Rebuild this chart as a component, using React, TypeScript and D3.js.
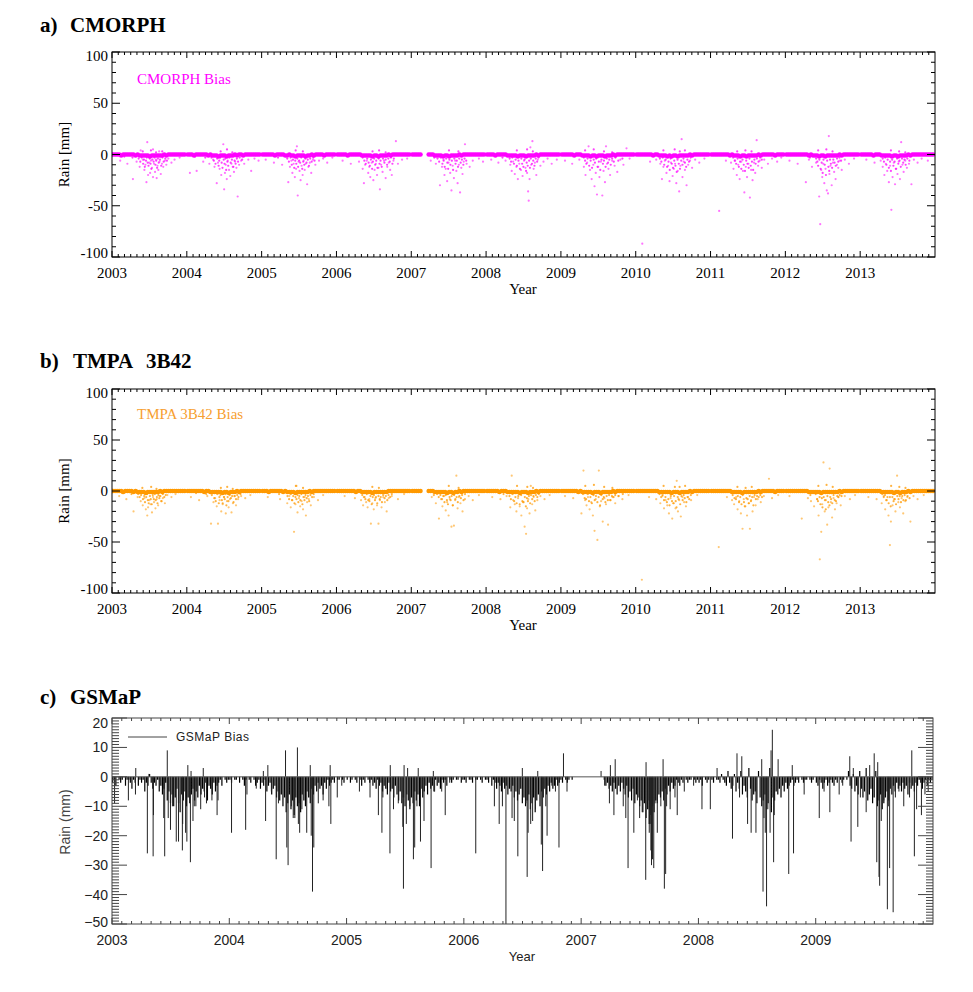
import React from 'react';
import * as d3 from 'd3';

// ---------- DATA ----------
const SCATTER_YEARS = [2003, 2004, 2005, 2006, 2007, 2008, 2009, 2010, 2011, 2012, 2013];
const AB_X_TICKS = [2003, 2004, 2005, 2006, 2007, 2008, 2009, 2010, 2011, 2012, 2013];
const AB_Y_TICKS = [100, 50, 0, -50, -100];

// CMORPH bias: 10-day (dekad) core values per year, "x" = missing
const CMORPH_BAND = [
  '0 0 0 0 -1 0 0 0 0 0 0 -1 0 -1 -1 -1 -1 -1 -2 -1 -1 -1 -1 -1 -1 0 -1 0 0 0 0 0 0 0 0 0',
  '0 0 0 -1 0 0 0 0 0 0 -1 0 -1 -1 -1 -2 -1 -1 -1 -2 -1 -1 -1 0 -1 0 0 -1 0 0 0 0 0 0 0 0',
  '0 0 0 0 0 0 -1 0 0 0 0 -1 -1 0 -1 -1 -2 -1 -1 -1 -1 -2 -1 -1 0 -1 0 0 0 0 -1 0 0 0 0 0',
  '0 0 0 0 0 -1 0 0 0 0 0 0 -1 -1 -1 -1 -1 -2 -1 -1 -2 -1 -1 -1 -1 0 -1 0 0 0 0 0 0 0 0 0',
  '0 0 0 0 0 x x x 0 0 0 -1 -1 -1 -1 -2 -1 -1 -2 -1 -1 -1 -1 0 -1 0 0 0 0 0 0 0 0 0 0 0',
  '0 0 0 0 -1 0 0 0 0 0 -1 -1 -1 -1 -1 -2 -1 -1 -1 -2 -1 -1 -1 -1 0 -1 0 0 0 0 0 0 0 0 0 0',
  '0 0 0 0 0 0 -1 0 0 0 -1 -1 -1 -1 -2 -1 -1 -2 -1 -1 -1 -2 -1 -1 -1 0 -1 0 0 0 0 0 0 0 0 0',
  '0 0 0 0 0 0 0 0 -1 0 0 -1 -1 -1 -1 -2 -1 -2 -1 -1 -2 -1 -1 -1 -1 -1 0 -1 0 0 0 0 0 0 0 0',
  '0 0 0 0 0 0 0 0 0 -1 0 -1 -1 -1 -2 -1 -1 -2 -1 -1 -1 -1 -1 0 -1 0 0 0 0 0 0 -1 0 0 0 0',
  '0 0 0 0 0 0 0 0 0 0 0 -1 0 -1 -1 -1 -2 -1 -1 -2 -1 -1 -1 -1 -1 -1 0 -1 0 0 0 0 0 0 0 0',
  '0 0 0 0 0 0 -1 0 0 0 -1 -1 -1 -1 -1 -2 -1 -1 -2 -1 -1 -1 -1 0 -1 0 0 0 0 0 0 0 0 0 0 0',
];

// CMORPH bias: scattered daily values "dayOfYear:mm" (far outliers)
const CMORPH_SCATTER = [
  '40:-6 75:-9 102:-24 120:-7 135:-12 140:4 150:-5 158:-15 163:-10 168:-27 172:12 176:-20 182:-8 186:-18 190:-6 195:-13 200:-22 200:5 205:-9 210:-17 214:-5 218:-23 222:-11 226:-15 230:3 232:-7 238:-19 244:-9 250:-12 258:-6 265:-10 275:-4 290:-8 305:-5 330:-3',
  '15:-18 48:-16 80:-7 110:-9 128:-5 135:-12 146:-28 152:-8 160:-14 168:-20 178:10 182:-34 186:-18 190:-10 195:-24 200:-6 206:-15 212:-21 218:-9 224:-12 230:-17 236:-7 242:-13 248:-41 255:-10 265:-6 280:-9 300:-5 314:-16 330:-4 350:-6',
  '20:-5 60:-8 100:-10 130:-27 138:-12 145:-6 150:-18 156:-9 162:-22 168:-14 172:8 176:-40 180:-7 185:-16 190:-25 195:-11 200:-20 205:-6 210:-15 215:-9 222:-29 228:-12 235:-8 242:-18 250:-5 262:-10 280:-6 300:-4 320:-8 345:-3',
  '30:-6 70:-9 110:-7 128:-14 134:-28 140:-10 148:-6 155:-18 160:-12 165:-22 172:-8 180:-25 186:-15 192:-9 198:-20 205:-13 212:-34 218:-10 225:-17 232:-6 240:-23 248:-12 255:-8 262:-15 270:-20 278:-6 290:13 300:-9 320:-5 345:-4',
  '95:-6 120:-9 140:-30 150:-12 157:-5 162:-20 168:-14 175:-26 182:-8 190:-18 196:-35 202:-11 208:-23 214:-6 220:-16 226:-28 232:-10 238:-37 244:-13 250:-19 256:-7 262:10 270:-9 285:-12 300:-6 330:-4 350:-7',
  '25:-5 60:-8 95:-6 118:-10 125:-16 132:-7 140:-19 148:-12 155:-24 162:-9 170:-15 178:-21 185:-6 192:-13 200:-18 205:-36 208:-45 212:-24 216:7 220:-10 226:13 232:-14 238:-8 245:-20 252:-5 265:-11 280:-7 300:-4 320:-9 345:-5',
  '20:-6 55:-9 90:-5 112:-12 120:-20 128:-8 135:8 142:-15 150:-24 158:-10 164:-31 170:-18 176:-39 182:-12 188:-22 195:-7 202:-40 208:-16 215:-27 220:8 225:-9 232:-14 240:-20 250:-6 262:-11 275:-17 290:-5 305:-10 320:6 335:-4',
  '32:-87 70:-7 100:-5 120:-9 128:-24 135:-12 142:-6 150:-18 158:-11 165:-26 172:-8 180:-21 186:-14 192:-9 198:-28 205:-16 212:-36 218:-11 224:15 228:-22 234:-7 240:-15 248:-30 256:-10 265:-6 275:-13 290:-5 310:-8 335:-4',
  '42:-55 75:-6 100:-8 112:-14 120:-6 128:-20 135:-10 142:-24 150:-7 158:-16 165:-37 172:-12 178:-22 185:-9 192:-42 198:-15 205:-25 212:-8 218:-18 225:14 232:-11 240:-6 250:-13 262:-5 280:-9 300:-4 325:-7 345:-3',
  '20:-6 60:-9 100:-27 115:-5 130:-12 150:-8 165:-41 170:-68 175:-15 180:-22 185:-9 190:-28 196:-14 202:-35 208:-38 212:18 215:-19 220:-11 226:-30 232:-8 238:-17 245:-24 252:-10 258:-13 265:-6 275:-15 290:-5 310:-9 335:-4',
  '30:-5 70:-8 100:-6 110:-12 118:-20 125:-9 132:-16 140:-27 146:-11 152:-54 158:-22 164:-8 170:-29 176:-14 182:-19 188:-7 194:-24 200:12 206:-10 212:-17 220:-6 228:-13 238:-9 250:-29 262:-5 280:-8 300:-4 330:-6',
];

// CMORPH bias: dense wet-season values close to the zero band
const CMORPH_NEAR = [
  '60:-2 100:-3 130:-4 138:-7 145:-3 150:3 152:-9 156:-5 160:-12 166:-6 170:-3 174:-8 178:-11 184:-4 188:-9 190:4 192:-14 197:-5 203:-7 207:-3 212:-10 215:2 216:-6 220:-13 224:-4 228:-8 234:-5 240:-11 245:3 246:-3 252:-7 260:-4 268:-6',
  '40:-2 90:-3 120:-3 132:-6 140:-9 148:-4 155:-11 158:-6 163:-3 165:3 170:-8 174:-13 180:-5 184:-9 188:-4 192:-15 196:5 198:-7 202:-11 208:-3 214:-8 220:-5 222:2 227:-12 233:-6 238:-9 244:-4 250:-7 258:-3 270:-5',
  '80:-3 125:-4 133:-7 141:-3 147:-10 153:-5 159:-13 164:-6 166:4 169:-9 174:-4 178:-12 183:-6 188:-8 193:-3 198:-14 201:3 203:-7 208:-10 213:-4 219:-8 225:-5 231:-11 237:-4 244:-7 252:-3 258:-6',
  '128:-3 136:-6 143:-9 150:-4 157:-8 163:-11 168:-5 174:-14 176:3 178:-7 184:-4 189:-10 194:-6 200:-13 206:-4 208:4 210:-9 215:-6 221:-12 227:-4 234:-8 240:-5 240:2 247:-10 253:-4 260:-7 266:-3 273:-9 280:-4',
  '112:-3 128:-4 136:-7 144:-3 152:-9 158:-6 163:-12 170:-4 176:-8 180:-14 184:4 186:-5 191:-10 198:-6 204:-15 210:-4 216:-9 222:-6 228:-12 230:3 234:-4 241:-8 247:-5 254:-10 260:-4 268:-6',
  '80:-3 115:-4 122:-7 128:-3 136:-9 144:-5 150:-11 150:4 158:-6 165:-14 172:-4 176:-9 182:-12 188:-5 195:-16 198:-8 200:5 203:-11 210:-6 214:-13 218:-4 224:-9 228:3 230:-6 236:-11 242:-4 249:-7 256:-3',
  '112:-3 118:-6 118:4 124:-9 130:-4 138:-11 145:-6 152:-13 160:-5 160:5 166:-8 172:-4 179:-12 185:-7 192:-15 198:-5 205:-9 210:-6 210:3 218:-12 224:-4 230:-8 236:-5 243:-10 250:-4 250:2 258:-7 266:-3 280:-6 300:-4',
  '118:-4 125:-7 132:-3 135:4 139:-10 146:-5 153:-12 160:-7 166:-15 170:-4 176:-9 182:-13 188:-6 190:5 194:-11 200:-17 204:-5 210:-9 215:3 216:-14 222:-6 228:-10 233:-4 240:-8 240:4 246:-12 252:-5 260:-7 268:-3',
  '110:-3 118:-6 125:-9 130:3 132:-4 138:-12 144:-7 150:-14 156:-5 162:-10 168:-16 170:4 174:-6 180:-9 186:-13 190:-4 196:-11 200:3 202:-7 208:-15 214:-5 220:-9 226:-4 234:-7 242:-3 250:-5',
  '120:-3 150:-4 156:-7 160:-11 160:4 166:-5 172:-14 177:-8 182:-18 186:-5 192:-10 198:-20 200:5 204:-6 210:-12 214:-16 218:-5 222:-9 228:-13 230:3 234:-5 240:-8 246:-11 252:-4 258:-7 264:-3 272:-6',
  '110:-4 116:-7 122:-3 128:-10 134:-5 140:-13 146:-7 150:-16 150:4 156:-5 162:-11 168:-7 174:-14 180:-4 186:-9 190:3 192:-6 198:-12 204:-4 210:-8 216:-5 220:2 222:-10 230:-4 240:-6',
];

// TMPA 3B42 bias
const TMPA_BAND = [
  '0 0 0 0 0 -1 0 0 0 0 -1 0 -1 -1 -1 -1 -2 -1 -1 -1 -1 -1 -1 0 -1 0 0 0 0 0 0 0 0 0 0 0',
  '0 0 0 0 0 0 0 0 -1 0 0 -1 -1 -1 -1 -1 -1 -2 -1 -1 -2 -1 -1 -1 0 -1 0 0 0 0 0 0 0 0 0 0',
  '0 0 0 -1 0 0 0 0 0 0 -1 0 -1 -1 -1 -1 -2 -1 -1 -1 -1 -1 -1 0 -1 0 0 0 0 0 0 0 0 0 0 0',
  '0 0 0 0 0 0 0 0 0 -1 0 0 -1 -1 -1 -1 -1 -2 -1 -1 -1 -1 -1 -1 -1 0 0 0 0 0 0 0 0 0 0 0',
  '0 0 0 0 0 x x x 0 0 0 -1 -1 -1 -1 -1 -1 -2 -1 -1 -2 -1 -1 0 -1 0 0 0 0 0 0 0 0 0 0 0',
  '0 0 0 0 0 0 -1 0 0 0 -1 -1 -1 -1 -1 -1 -2 -1 -1 -1 -2 -1 -1 -1 0 -1 0 0 0 0 0 0 0 0 0 0',
  '0 0 0 0 0 0 0 0 -1 0 -1 -1 -1 -1 -1 -2 -1 -1 -1 -2 -1 -1 -1 -1 -1 0 -1 0 0 0 0 0 0 0 0 0',
  '0 0 0 0 0 0 0 0 0 0 0 -1 -1 -1 -1 -1 -1 -2 -1 -1 -1 -2 -1 -1 -1 -1 0 -1 0 0 0 0 0 0 0 0',
  '0 0 0 0 0 0 0 0 0 0 -1 -1 -1 -1 -1 -2 -1 -1 -1 -1 -1 -1 -1 0 -1 0 0 0 0 0 0 -1 0 0 0 0',
  '0 0 0 0 0 0 0 0 0 0 0 -1 -1 -1 -1 -1 -1 -2 -1 -1 -1 -1 -1 -1 -1 -1 0 -1 0 0 0 0 0 0 0 0',
  '0 0 0 0 0 0 0 0 0 0 -1 -1 -1 -1 -1 -1 -2 -1 -1 -2 -1 -1 -1 0 -1 0 0 0 0 0 0 0 0 0 0 0',
];

const TMPA_SCATTER = [
  '35:-5 70:-8 105:-20 125:-6 140:-10 150:-14 158:-7 165:-18 172:-24 176:-16 182:-9 188:-13 195:-21 200:-6 205:-11 212:-17 218:-8 225:-14 232:-5 240:-10 248:-7 258:-12 270:-4 290:-6 310:-3',
  '20:-6 60:-9 100:-5 118:-32 130:-11 138:-7 146:-15 152:-32 160:-9 168:-20 175:-13 182:-6 190:-22 196:-10 204:-16 210:-8 218:-21 225:-12 232:-5 240:-14 250:-8 265:-5 285:-7 310:-4',
  '30:-6 90:-8 125:-12 135:-5 142:-16 150:-9 158:-40 165:-13 170:5 175:-21 182:-7 188:-15 195:-10 202:-18 210:-6 216:-24 222:-11 230:-8 240:-14 255:-6 275:-9 300:-4',
  '40:-5 90:-7 120:-9 130:-14 138:-6 145:-11 152:-16 160:-8 168:-32 175:-12 182:-18 190:-7 198:-14 205:-32 212:-9 220:-16 228:-6 236:-11 245:-20 255:-7 270:-5 300:-8 330:-3',
  '100:-6 120:-12 135:-27 145:-8 152:-15 160:-5 168:-19 175:-11 182:-24 188:-8 196:-35 202:-14 208:-34 214:-9 220:15 226:-17 232:-6 240:-12 250:-20 262:-8 280:-5 300:-9 330:-4',
  '30:-6 70:-8 100:-5 118:-16 125:15 132:-9 140:-13 148:-20 156:-7 164:-15 172:-24 180:-11 188:-35 195:-42 200:-17 206:-8 212:-22 218:5 225:-13 232:-6 240:-19 250:-9 265:-5 285:-8 310:-4',
  '20:-5 60:-7 100:-22 110:20 118:-9 125:-14 132:-6 140:-18 148:-11 156:-24 164:-39 170:-8 178:-48 185:20 190:-15 196:-10 204:-30 212:-7 220:-13 230:-33 240:-9 252:-6 265:-12 280:-5 300:-8 330:-4',
  '30:-87 65:-6 100:-8 120:-12 130:-5 138:-17 146:-9 154:-14 162:-22 170:-7 178:-27 186:-12 194:-17 200:10 206:-20 212:-9 220:-25 228:-6 236:-11 245:-15 255:-6 270:-9 300:-4',
  '40:-55 80:-6 105:-9 115:-13 125:-6 132:-18 140:-10 148:-22 156:-37 162:-8 170:-15 178:-24 186:-12 192:-37 198:-9 205:-20 212:-6 220:-14 230:-8 245:-11 260:-5 285:12 300:-7 330:-4',
  '20:-5 80:-27 110:-7 125:-10 140:-15 155:-8 162:-24 168:-67 175:-40 180:-13 186:28 192:-20 198:-9 204:-33 210:-16 216:22 222:-11 228:-26 235:-7 242:-18 250:-12 258:-6 270:-14 290:-5 315:-8 340:-4',
  '40:-6 80:-8 105:-12 115:-5 122:-18 130:-9 138:-24 145:-53 150:-30 158:-14 165:-8 172:-20 180:15 186:-11 194:-16 202:-7 210:-22 220:-10 230:-6 245:-30 260:-5 280:-8 310:-4',
];

const TMPA_NEAR = [
  '50:-2 95:-3 128:-3 135:-6 142:-4 148:3 151:-8 157:-5 161:-11 167:-6 171:-3 175:-9 179:-12 185:-5 189:-8 191:4 194:-13 199:-4 204:-8 209:-3 213:-9 217:2 219:-6 222:-12 226:-4 231:-7 236:-5 242:-10 248:-3 255:-6 262:-4',
  '45:-2 95:-3 122:-4 134:-7 141:-10 149:-3 156:-12 159:-6 164:-4 166:3 171:-9 175:-12 181:-6 185:-8 189:-3 193:-14 197:4 199:-6 203:-10 209:-4 215:-7 221:-5 224:2 228:-11 234:-5 240:-8 246:-4 252:-6 262:-3',
  '85:-3 126:-5 134:-8 142:-3 148:-9 154:-5 160:-12 165:-6 167:5 170:-8 175:-4 179:-11 184:-5 189:-9 194:-3 199:-13 202:3 204:-6 209:-9 214:-4 220:-7 226:-5 232:-10 238:-4 246:-6 254:-3',
  '126:-4 134:-6 141:-8 148:-3 155:-9 161:-10 166:-5 172:-13 175:4 177:-6 183:-4 188:-9 193:-6 199:-12 205:-5 207:3 211:-8 216:-6 222:-11 228:-4 235:-7 241:-5 248:-9 254:-4 262:-6 270:-3',
  '110:-4 126:-3 134:-6 142:-4 150:-8 156:-5 162:-11 168:-4 174:-9 179:-13 183:5 187:-6 192:-9 197:-5 203:-14 209:-4 215:-8 221:-6 227:-11 231:3 235:-5 242:-7 248:-4 255:-9 262:-3',
  '85:-3 114:-5 121:-8 129:-3 137:-10 143:-6 149:-12 151:5 157:-5 164:-13 171:-4 177:-10 183:-11 189:-6 194:-15 199:-7 201:4 204:-10 209:-5 215:-12 219:-4 225:-8 229:3 231:-5 237:-10 243:-4 250:-6 257:-3',
  '108:-3 116:-7 119:5 123:-8 131:-3 137:-10 144:-6 151:-12 159:-4 161:6 165:-9 171:-5 178:-11 184:-6 191:-14 197:-4 204:-8 209:-6 211:4 217:-11 223:-5 229:-9 235:-4 242:-9 249:-5 251:3 257:-6 265:-4 282:-5 302:-3',
  '116:-3 124:-6 131:-4 136:5 138:-9 145:-6 152:-11 159:-8 165:-14 171:-5 177:-10 183:-12 187:-5 191:4 195:-10 199:-16 205:-6 209:-8 214:4 217:-13 223:-5 229:-9 234:-4 239:-7 241:5 247:-11 253:-6 261:-8 269:-4',
  '108:-4 117:-7 124:-8 131:4 133:-5 139:-11 145:-6 151:-13 157:-4 163:-11 167:-15 171:3 175:-7 181:-8 187:-12 191:-5 197:-10 201:4 203:-6 209:-14 215:-4 221:-8 227:-5 235:-6 243:-4 251:-6',
  '122:-4 148:-3 155:-8 159:-10 161:5 167:-6 171:-13 178:-7 181:-16 187:-6 193:-9 197:-18 201:6 205:-5 209:-11 215:-14 219:-6 223:-8 229:-12 231:4 235:-4 241:-9 247:-10 253:-5 259:-6 265:-4 274:-5',
  '108:-3 115:-6 121:-4 127:-9 133:-6 139:-12 145:-6 149:-15 151:5 157:-6 163:-10 169:-8 175:-13 181:-5 187:-8 191:4 193:-5 199:-11 205:-5 211:-9 217:-4 221:3 223:-9 231:-5 241:-7',
];

// GSMaP bias
const GSMAP_YEARS = [2003, 2004, 2005, 2006, 2007, 2008, 2009];
const C_X_TICKS = [2003, 2004, 2005, 2006, 2007, 2008, 2009];
const C_Y_TICKS = [20, 10, 0, -10, -20, -30, -40, -50];
// 5-day (pentad) values per year
const GSMAP_PENTAD = [
  '-2 -1 -3 0 -1 -2 -1 0 -3 -1 -1 -2 -4 -1 -2 0 -3 -1 -2 -1 -5 -2 -3 1 -2 -4 -2 -3 -1 -5 -3 -6 -4 -2 -8 -5 -9 -6 -10 -7 -4 -9 -12 -6 -8 -5 -10 -7 -9 -6 -4 -8 -5 -7 -3 -6 -4 -5 -2 -8 -3 -4 -6 -2 -5 -3 -2 -1 -3 0 -1 -2 -1',
  '-1 -2 0 -1 -1 0 -2 0 -1 -3 -1 0 -1 -2 0 -1 -3 -2 -1 -4 -2 -3 -1 -5 -3 -2 -6 -4 -3 -7 -5 -8 -6 -10 -7 -12 -9 -6 -11 -8 -13 -7 -10 -9 -12 -6 -8 -10 -5 -7 -9 -4 -6 -3 -5 -2 -4 -3 -6 -2 -4 -1 -3 -2 -1 -2 0 -1 -1 0 -1 -2 0',
  '-1 0 -2 -1 0 -1 -2 0 -1 -3 -1 -2 0 -1 -2 -1 -3 -2 -4 -1 -3 -2 -5 -3 -4 -6 -2 -5 -4 -7 -3 -6 -8 -5 -9 -7 -10 -6 -8 -11 -7 -9 -5 -8 -6 -10 -4 -7 -5 -3 -6 -2 -4 -3 -5 -1 -3 -2 -4 -1 -2 -1 -3 0 -1 -2 -1 0 -1 -1 0 -2 -1',
  '-1 -2 0 -1 -1 -2 0 -1 -1 0 -1 -2 0 -1 -1 -2 0 -3 -1 -2 -4 -2 -3 -5 -2 -4 -3 -6 -4 -5 -3 -7 -5 -8 -6 -4 -9 -7 -10 -8 -6 -11 -9 -7 -12 -8 -6 -10 -5 -7 -4 -6 -3 -5 -2 -4 -3 -1 -3 -2 -1 -2 0 -1 -2 -1 0 -1 0 0 0 0 0',
  '0 0 0 0 0 0 0 0 0 0 0 0 0 0 -1 -3 -2 -4 -3 -5 -2 -4 -6 -3 -5 -2 -4 -6 -3 -7 -5 -8 -4 -9 -6 -7 -10 -8 -12 -9 -14 -11 -16 -13 -10 -12 -8 -9 -6 -7 -5 -8 -4 -6 -3 -5 -2 -4 -3 -1 -2 -3 -1 -2 0 -1 -2 -1 -1 0 -1 -2 -1',
  '-2 -1 -3 0 -1 -2 -1 0 -1 -2 0 -1 -1 -2 1 -1 -2 -3 2 -2 -4 -3 1 -5 -2 -4 2 -6 -3 -5 -7 3 -4 -8 -6 -5 -9 2 -7 -10 -8 -6 -11 -9 3 -12 -7 -8 -5 -6 -4 -7 -3 -5 -2 -4 -3 -2 -1 -3 -2 -1 -2 0 -1 -2 -1 -1 0 -1 -2 -1 0',
  '-2 -3 -1 -2 -4 -2 -1 -3 -2 -1 -2 -3 -1 -2 0 -1 -2 -1 0 -1 2 -3 -4 1 -5 -3 -6 2 -4 -7 -5 3 -8 -6 -4 -9 -7 2 -10 -8 -6 -11 -9 -7 -5 -8 -4 -6 -3 -5 -2 -4 -3 -5 -2 -4 -3 -6 -2 -4 -3 -5 -2 -3 -1 -2 -4 -2 -1 -3 -1 -2 -1',
];
// individual daily spikes "dayOfYear:mm"
const GSMAP_SPIKES = [
  '8:-9 51:-8 73:-6 74:3 110:-26 115:1 128:-27 129:-13 161:-14 164:-27 172:9 175:-14 182:-18 188:-10 200:-22 207:-22 219:-25 220:-16 229:-19 233:-22 236:4 244:-29 246:2 252:-15 256:-10 261:-10 276:-11 284:3 288:-7 294:-9 311:-8 327:-13 330:-8',
  '7:-19 51:-18 55:-6 84:-4 106:2 113:-15 120:4 131:-5 146:-28 153:-9 175:9 179:-24 183:-30 193:-10 199:-14 204:-14 212:10 215:-16 219:-19 226:-11 241:-19 252:4 255:-20 259:-39 263:-24 277:-9 292:-8 310:-10 314:4 316:-16 336:-7 350:-3',
  '40:-5 73:-7 99:-13 110:-19 113:-7 135:-26 136:4 146:-11 161:-9 175:-17 177:-38 179:4 186:-16 190:3 197:-10 208:-28 212:-24 219:-10 223:3 230:-22 241:-15 263:-31 270:2 274:-5 296:-5 307:-13 321:-2',
  '37:-26 95:-10 110:-16 120:-10 131:-50 150:-14 157:-15 168:-27 182:3 193:-9 197:-34 200:-19 208:-16 214:-15 223:-11 230:2 241:-23 245:-32 255:-10 259:-20 274:-3 285:-5 296:-24 310:8 321:-5',
  '62:2 73:-3 88:-9 91:4 102:-13 106:6 131:-10 139:-14 146:-31 164:-19 175:-8 182:-14 190:-12 201:-35 202:5 208:-8 212:-19 215:-16 217:-25 219:-30 222:-28 226:-31 230:-9 237:-19 248:-10 255:6 259:-38 263:-33 266:-10 277:-11 292:-7 299:-13 321:-5 350:-3',
  '11:-11 37:-11 58:3 106:-21 120:8 128:-7 135:7 153:-16 164:-19 179:-19 197:6 201:-39 204:-14 208:-19 212:-44 216:-11 223:-19 226:9 230:16 234:-29 236:-13 248:6 281:-33 292:4 296:-26 329:-6',
  '11:-14 26:-5 44:-12 73:-6 84:-3 106:7 110:-22 117:3 131:-17 139:-7 157:-12 168:4 182:8 190:-29 193:5 197:-34 199:-37 204:-15 212:-8 223:-45 226:-10 230:-31 241:-46 248:-7 259:-5 274:-10 292:-7 299:9 307:-27 314:-11 329:-13 340:-6 350:-5',
];

// ---------- helpers ----------
type Pt = { t: number; v: number };
const parseSeq = (year: number, s: string, step: number, off: number): Pt[] =>
  s.split(' ').map((v, i) => (v === 'x' ? null : { t: year + (i * step + off) / 365, v: +v })).filter(Boolean) as Pt[];
const parsePairs = (year: number, s: string): Pt[] =>
  s.split(' ').map((p) => { const [d, v] = p.split(':'); return { t: year + +d / 365, v: +v }; });

const SERIF = '"Liberation Serif", "Times New Roman", serif';
const SANS = '"Liberation Sans", Arial, sans-serif';

function ScatterPanel(props: {
  id: string; top: number; bottom: number; label: string; name: string[]; nameX: number[]; titleY: number;
  legend: string; legendY: number; color: string; textColor: string; band: string[]; scatter: string[]; near: string[];
}) {
  const { id, top, bottom, color } = props;
  const x = d3.scaleLinear().domain([2003, 2014]).range([112, 935]);
  const y = d3.scaleLinear().domain([-100, 100]).range([bottom, top]);
  const band = SCATTER_YEARS.flatMap((yr, i) => parseSeq(yr, props.band[i], 10, 5));
  const pts = SCATTER_YEARS.flatMap((yr, i) => parsePairs(yr, props.scatter[i]));
  const near = SCATTER_YEARS.flatMap((yr, i) => parsePairs(yr, props.near[i]));
  const L = 112, R = 935;
  let tk = '';
  for (let yr = 2003; yr < 2014; yr++) {
    for (let m = 0; m < 12; m++) {
      const xx = x(yr + m / 12);
      const len = m === 0 ? 6 : 3;
      tk += `M${xx},${bottom}v${-len}M${xx},${top}v${len}`;
    }
  }
  for (let v = -100; v <= 100; v += 10) {
    const yy = y(v);
    const len = v % 50 === 0 ? 8 : 4;
    tk += `M${L},${yy}h${len}M${R},${yy}h${-len}`;
  }
  const labelShift = (v: number) => (v === 100 ? 4 : v === -100 ? -4 : 0);
  return (
    <g>
      <text x={40} y={props.titleY} fontFamily={SERIF} fontWeight="bold" fontSize={21}>{props.label}</text>
      {props.name.map((n, i) => (
        <text key={i} x={props.nameX[i]} y={props.titleY} fontFamily={SERIF} fontWeight="bold" fontSize={21}>{n}</text>
      ))}
      <clipPath id={id}><rect x={L} y={top} width={R - L} height={bottom - top} /></clipPath>
      <g clipPath={`url(#${id})`}>
        {pts.map((p, i) => (
          <circle key={'s' + i} cx={x(p.t)} cy={y(p.v)} r={1.1} fill={color} fillOpacity={0.55} />
        ))}
        {near.map((p, i) => (
          <circle key={'n' + i} cx={x(p.t)} cy={y(p.v)} r={1.1} fill={color} fillOpacity={0.75} />
        ))}
        {band.map((p, i) => (
          <circle key={'b' + i} cx={x(p.t)} cy={y(p.v)} r={2.3} fill={color} />
        ))}
      </g>
      <rect x={L} y={top} width={R - L} height={bottom - top} fill="none" stroke="#000" strokeWidth={1} />
      <path d={tk} stroke="#000" strokeWidth={1} fill="none" />
      {AB_Y_TICKS.map((v) => (
        <text key={v} x={108} y={y(v) + 5 + labelShift(v)} textAnchor="end" fontFamily={SERIF} fontSize={15}>{v}</text>
      ))}
      {AB_X_TICKS.map((v) => (
        <text key={v} x={x(v)} y={bottom + 21} textAnchor="middle" fontFamily={SERIF} fontSize={15}>{v}</text>
      ))}
      <text x={523} y={bottom + 37} textAnchor="middle" fontFamily={SERIF} fontSize={15}>Year</text>
      <text transform={`translate(69,${(top + bottom) / 2}) rotate(-90)`} textAnchor="middle" fontFamily={SERIF} fontSize={15}>Rain [mm]</text>
      <text x={137} y={props.legendY} fontFamily={SERIF} fontSize={15} fill={props.textColor}>{props.legend}</text>
    </g>
  );
}

function GsmapPanel() {
  const top = 718, bottom = 924, L = 112, R = 933;
  const x = d3.scaleLinear().domain([2003, 2010]).range([L, R]);
  const y = d3.scaleLinear().domain([-50, 20]).range([bottom, top]);
  const pent = GSMAP_YEARS.flatMap((yr, i) => parseSeq(yr, GSMAP_PENTAD[i], 5, 2));
  const spikes = GSMAP_YEARS.flatMap((yr, i) => parsePairs(yr, GSMAP_SPIKES[i]));
  let bars = '';
  pent.forEach((p) => { bars += `M${x(p.t).toFixed(2)},${y(0)}V${y(p.v)}`; });
  let sp = '';
  spikes.forEach((p) => { sp += `M${x(p.t).toFixed(2)},${y(0)}V${y(p.v)}`; });
  let tk = '';
  for (let yr = 2003; yr < 2010; yr++) {
    for (let m = 0; m < 12; m++) {
      const xx = x(yr + m / 12);
      const len = m === 0 ? 6 : 3;
      tk += `M${xx},${bottom}v${-len}M${xx},${top}v${len}`;
    }
  }
  for (let v = -50; v <= 20; v += 1) {
    const yy = y(v);
    const len = v % 10 === 0 ? 15 : 7;
    tk += `M${L},${yy}h${len}M${R},${yy}h${-len}`;
  }
  const labelShift = (v: number) => (v === 20 ? 5 : v === -50 ? -2 : 0);
  return (
    <g>
      <text x={40} y={704} fontFamily={SERIF} fontWeight="bold" fontSize={21}>c)</text>
      <text x={70} y={704} fontFamily={SERIF} fontWeight="bold" fontSize={21}>GSMaP</text>
      <clipPath id="clipc"><rect x={L} y={top} width={R - L} height={bottom - top} /></clipPath>
      <g clipPath="url(#clipc)">
        <path d={bars} stroke="#000" strokeWidth={1.2} fill="none" />
        <path d={sp} stroke="#222" strokeWidth={1} fill="none" />
        <line x1={L} x2={R} y1={y(0)} y2={y(0)} stroke="#555" strokeWidth={1} />
      </g>
      <rect x={L} y={top} width={R - L} height={bottom - top} fill="none" stroke="#444" strokeWidth={1} />
      <path d={tk} stroke="#444" strokeWidth={1} fill="none" />
      {C_Y_TICKS.map((v) => (
        <text key={v} x={108} y={y(v) + 5 + labelShift(v)} textAnchor="end" fontFamily={SANS} fontSize={14} fill="#222">
          {v < 0 ? '\u2212' + Math.abs(v) : String(v)}
        </text>
      ))}
      {C_X_TICKS.map((v) => (
        <text key={v} x={x(v)} y={945} textAnchor="middle" fontFamily={SANS} fontSize={14} fill="#222">{v}</text>
      ))}
      <text x={522} y={961} textAnchor="middle" fontFamily={SANS} fontSize={13} fill="#222">Year</text>
      <text transform={`translate(70,822) rotate(-90)`} textAnchor="middle" fontFamily={SANS} fontSize={14} fill="#444">Rain (mm)</text>
      <line x1={128} x2={167} y1={737} y2={737} stroke="#444" strokeWidth={1} />
      <text x={176} y={741} fontFamily={SANS} fontSize={12} fill="#222" letterSpacing={0.5}>GSMaP Bias</text>
    </g>
  );
}

export default function App() {
  return (
    <svg width={973} height={992} style={{ position: 'absolute', left: 0, top: 0, background: '#fff' }}>
      <rect width={973} height={992} fill="#fff" />
      <ScatterPanel id="clipa" top={52} bottom={257} label="a)" name={['CMORPH']} nameX={[70]} titleY={32}
        legend="CMORPH Bias" legendY={84} color="#ff00ff" textColor="#ff00ff"
        band={CMORPH_BAND} scatter={CMORPH_SCATTER} near={CMORPH_NEAR} />
      <ScatterPanel id="clipb" top={389} bottom={593} label="b)" name={['TMPA', '3B42']} nameX={[73, 146]} titleY={368}
        legend="TMPA 3B42 Bias" legendY={419} color="#ff9900" textColor="#f7a030"
        band={TMPA_BAND} scatter={TMPA_SCATTER} near={TMPA_NEAR} />
      <GsmapPanel />
    </svg>
  );
}
